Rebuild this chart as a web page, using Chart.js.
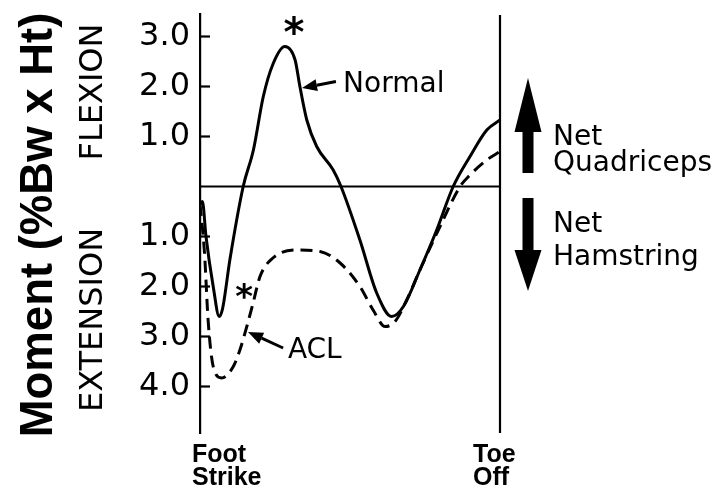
<!DOCTYPE html>
<html>
<head>
<meta charset="utf-8">
<script src="https://cdn.jsdelivr.net/npm/chart.js@4.4.1/dist/chart.umd.min.js"></script>
<style>
  html, body { margin: 0; padding: 0; background: #fff; }
  #wrap { width: 718px; height: 493px; position: relative; }
</style>
</head>
<body>
<div id="wrap"><canvas id="kneeChart"></canvas></div>
<script>
// % of stance (0 = foot strike, 100 = toe off) and knee moment (%Bw x Ht), flexion +, extension -
const normalStance = [0, 0.8, 2, 4.4, 6.4, 7.5, 10, 14.4, 17.8, 21.1, 24.4, 28.3, 31.7, 33.3, 35.6, 38.9, 44.4, 47, 53.3, 58.9, 63.9, 67.8, 73.3, 78.9, 84.4, 90, 95.6, 100];
const normalMoment = [-0.35, -0.3, -1.0, -2.0, -2.6, -2.45, -1.45, 0, 0.73, 1.8, 2.46, 2.8, 2.53, 2.0, 1.33, 0.8, 0.33, 0, -1.07, -2.13, -2.6, -2.4, -1.67, -0.87, 0, 0.6, 1.13, 1.33];

const aclStance = [0, 1.5, 2.7, 4.4, 7.2, 11.1, 13.3, 15.6, 17.7, 20, 24.3, 32.2, 40, 46.7, 53.3, 57.7, 61.7, 65, 68.9, 73.3, 80, 86.7, 90, 95.6, 100];
const aclMoment = [-0.35, -1.33, -2.67, -3.6, -3.83, -3.6, -3.27, -2.8, -2.33, -1.8, -1.43, -1.27, -1.3, -1.53, -2.0, -2.47, -2.8, -2.7, -2.27, -1.67, -0.8, 0, 0.23, 0.53, 0.7];

const yTicks = [3, 2, 1, -1, -2, -3, -4];
const xLabels = [['Foot', 'Strike'], ['Toe', 'Off']];

const toPoints = (xs, ys) => xs.map((x, i) => ({ x: x, y: ys[i] }));

function line(ctx, x1, y1, x2, y2) {
  ctx.beginPath();
  ctx.moveTo(x1, y1);
  ctx.lineTo(x2, y2);
  ctx.stroke();
}

// small pointer arrow with a filled head at the tip
function pointer(ctx, tx, ty, fx, fy) {
  const ang = Math.atan2(ty - fy, tx - fx);
  const hl = 15, hw = 6;
  const bx = tx - hl * Math.cos(ang), by = ty - hl * Math.sin(ang);
  ctx.lineWidth = 3;
  line(ctx, fx, fy, bx, by);
  ctx.beginPath();
  ctx.moveTo(tx, ty);
  ctx.lineTo(bx + hw * Math.sin(ang), by - hw * Math.cos(ang));
  ctx.lineTo(bx - hw * Math.sin(ang), by + hw * Math.cos(ang));
  ctx.closePath();
  ctx.fill();
}

// text centred on its real ink box
function centredGlyph(ctx, text, cx, cy) {
  const m = ctx.measureText(text);
  ctx.textAlign = 'center';
  ctx.textBaseline = 'alphabetic';
  ctx.fillText(text, cx, cy + (m.actualBoundingBoxAscent - m.actualBoundingBoxDescent) / 2);
}

function rotatedText(ctx, text, cx, cy) {
  ctx.save();
  ctx.translate(cx, cy);
  ctx.rotate(-Math.PI / 2);
  ctx.textAlign = 'center';
  ctx.textBaseline = 'middle';
  ctx.fillText(text, 0, 0);
  ctx.restore();
}

const figureExtras = {
  id: 'figureExtras',
  afterDatasetsDraw(chart) {
    const { ctx, chartArea: area, scales: { x, y } } = chart;
    ctx.save();
    ctx.strokeStyle = '#000';
    ctx.fillStyle = '#000';

    // zero line and toe-off line
    ctx.lineWidth = 2.2;
    const y0 = y.getPixelForValue(0);
    line(ctx, area.left, y0, area.right, y0);
    const xToe = x.getPixelForValue(100);
    line(ctx, xToe, area.top + 1, xToe, area.bottom);

    // tick marks point into the plot
    y.ticks.forEach(t => {
      const py = y.getPixelForValue(t.value);
      line(ctx, area.left, py, area.left + 10, py);
    });

    // axis titles on the left
    ctx.font = 'bold 48px "Liberation Sans"';
    const big = 'Moment (%Bw x Ht)';
    const w = ctx.measureText(big).width;
    ctx.font = 'bold ' + (48 * 425 / w).toFixed(1) + 'px "Liberation Sans"';
    rotatedText(ctx, big, 39, 225);
    ctx.font = '32px "DejaVu Sans"';
    rotatedText(ctx, 'FLEXION', 94, 92);
    rotatedText(ctx, 'EXTENSION', 94, 320);

    // stance events under the axis
    ctx.font = 'bold 25px "Liberation Sans"';
    ctx.textAlign = 'left';
    ctx.textBaseline = 'alphabetic';
    [0, 100].forEach((v, i) => {
      const px = x.getPixelForValue(v) - (i === 0 ? 8 : 27);
      ctx.fillText(xLabels[i][0], px, 462);
      ctx.fillText(xLabels[i][1], px, 485);
    });

    // curve labels and pointers
    ctx.font = '28px "DejaVu Sans"';
    ctx.fillText('Normal', x.getPixelForValue(47.7), y.getPixelForValue(1.89));
    ctx.fillText('ACL', x.getPixelForValue(29.3), y.getPixelForValue(-3.43));
    pointer(ctx, x.getPixelForValue(34), y.getPixelForValue(1.97), x.getPixelForValue(45.3), y.getPixelForValue(2.1));
    pointer(ctx, x.getPixelForValue(16), y.getPixelForValue(-2.91), x.getPixelForValue(27.7), y.getPixelForValue(-3.23));

    // significance marks
    ctx.font = 'bold 40px "DejaVu Sans"';
    centredGlyph(ctx, '*', x.getPixelForValue(31.3), y.getPixelForValue(3.23));
    ctx.font = 'bold 34px "DejaVu Sans"';
    centredGlyph(ctx, '*', x.getPixelForValue(14.7), y.getPixelForValue(-2.09));

    // net muscle arrows on the right
    const ax = area.right + 28;
    ctx.beginPath();
    ctx.moveTo(ax, 78);
    ctx.lineTo(ax + 13.5, 132);
    ctx.lineTo(ax + 5.5, 132);
    ctx.lineTo(ax + 5.5, 173);
    ctx.lineTo(ax - 5.5, 173);
    ctx.lineTo(ax - 5.5, 132);
    ctx.lineTo(ax - 13.5, 132);
    ctx.closePath();
    ctx.fill();
    ctx.beginPath();
    ctx.moveTo(ax - 5.5, 198);
    ctx.lineTo(ax + 5.5, 198);
    ctx.lineTo(ax + 5.5, 250);
    ctx.lineTo(ax + 13.5, 250);
    ctx.lineTo(ax, 291);
    ctx.lineTo(ax - 13.5, 250);
    ctx.lineTo(ax - 5.5, 250);
    ctx.closePath();
    ctx.fill();

    ctx.font = '28px "DejaVu Sans"';
    ctx.textAlign = 'left';
    ctx.textBaseline = 'alphabetic';
    const tx = area.right + 53;
    ctx.fillText('Net', tx, 145);
    ctx.fillText('Quadriceps', tx, 171);
    ctx.fillText('Net', tx, 232);
    ctx.fillText('Hamstring', tx, 265);

    ctx.restore();
  }
};

new Chart(document.getElementById('kneeChart'), {
  type: 'line',
  data: {
    datasets: [
      {
        label: 'Normal',
        data: toPoints(normalStance, normalMoment),
        borderColor: '#000',
        borderWidth: 3,
        pointRadius: 0,
        cubicInterpolationMode: 'monotone',
        fill: false
      },
      {
        label: 'ACL',
        data: toPoints(aclStance, aclMoment),
        borderColor: '#000',
        borderWidth: 3,
        borderDash: [12, 7],
        pointRadius: 0,
        cubicInterpolationMode: 'monotone',
        fill: false
      }
    ]
  },
  options: {
    responsive: true,
    maintainAspectRatio: false,
    animation: false,
    layout: { padding: { left: 0, right: 218, top: 14, bottom: 60 } },
    plugins: {
      legend: { display: false },
      tooltip: { enabled: false }
    },
    scales: {
      x: { type: 'linear', min: 0, max: 100, display: false },
      y: {
        type: 'linear',
        min: -4.93,
        max: 3.45,
        afterFit: (scale) => {
          scale.width = 200;
          scale.paddingTop = 0;
          scale.paddingBottom = 0;
        },
        afterBuildTicks: (scale) => { scale.ticks = yTicks.map(v => ({ value: v })); },
        grid: { display: false, drawTicks: false },
        border: { display: true, color: '#000', width: 2.2 },
        ticks: {
          autoSkip: false,
          padding: 10,
          color: '#000',
          font: { family: 'DejaVu Sans', size: 32 },
          callback: (v) => Math.abs(v).toFixed(1)
        }
      }
    }
  },
  plugins: [figureExtras]
});
</script>
</body>
</html>
